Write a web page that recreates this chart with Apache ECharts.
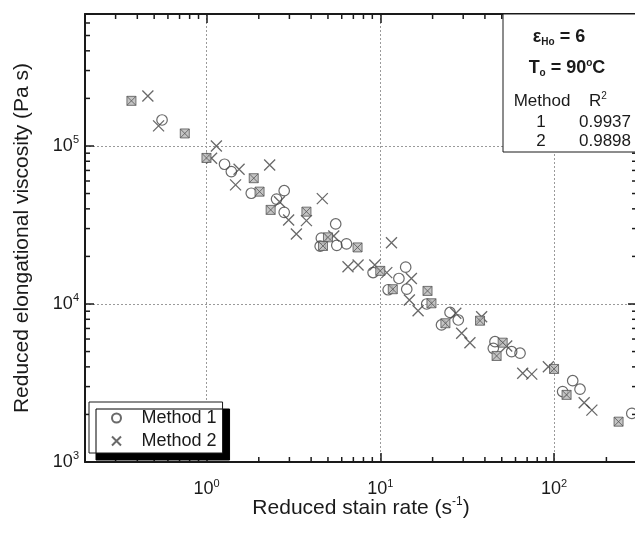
<!DOCTYPE html>
<html><head><meta charset="utf-8">
<script src="https://cdn.jsdelivr.net/npm/echarts@6/dist/echarts.min.js"></script>
<style>html,body{margin:0;padding:0;background:#fff}#c{width:635px;height:533px}</style>
</head><body><div id="c"></div>
<script>
// ---- data (x = reduced strain rate, y = reduced elongational viscosity) ----
const method1 = [
  [0.555,146000],[1.27,76600],[1.39,68800],[1.81,50200],[2.80,52100],[2.53,46100],
  [2.80,38000],[5.54,32100],[4.58,26100],[4.51,23200],[5.62,23500],[6.39,24000],
  [9.09,15800],[14.0,17100],[12.8,14500],[11.1,12300],[14.2,12400],[18.5,10000],
  [25.2,8840],[28.1,7920],[22.5,7370],[45.7,5770],[44.7,5240],[57.0,4990],
  [63.7,4880],[128,3270],[141,2890],[112,2790],[280,2030]
];
const method2 = [
  [0.46,207000],[0.53,134000],[1.14,100000],[1.07,83600],[1.54,71200],[2.31,75800],
  [1.47,56700],[2.63,44400],[2.97,34000],[3.29,27700],[3.76,33700],[4.64,46400],
  [5.40,26900],[11.6,24400],[6.52,17200],[7.45,17650],[9.30,17650],[10.9,15800],
  [15.1,14500],[14.7,10600],[16.5,9070],[27.2,8730],[38.3,8310],[29.4,6520],
  [32.8,5690],[53.4,5420],[66.0,3640],[74.4,3600],[92.7,4010],[149,2370],[165,2130]
];
// points where both methods coincide (drawn as boxed symbols)
const bothMethods = [
  [0.37,193000],[0.75,120000],[1.0,84000],[1.87,62500],[2.02,51400],[2.34,39400],
  [3.76,38400],[5.0,26400],[4.68,23300],[7.4,22800],[10.0,16200],[11.8,12400],
  [18.7,12100],[19.7,10100],[23.7,7550],[37.5,7840],[50.6,5690],[46.7,4690],
  [100,3880],[118,2660],[235,1800]
];
const xMinorTicks = [0.3,0.4,0.5,0.6,0.7,0.8,0.9,2,3,4,5,6,7,8,9,20,30,40,50,60,70,80,90,200];
const yMinorTicks = [2000,3000,4000,5000,6000,7000,8000,9000,20000,30000,40000,50000,60000,70000,80000,90000,200000,300000,400000,500000,600000];
const xRange = [0.2, 300];
const yRange = [1000, 684000];

const FONT = 'Liberation Sans, Arial, sans-serif';
const INK = '#1a1a1a';
const crossPath = 'path://M0,0L10,10M10,0L0,10';
const boxPath = 'path://M0,0L10,0L10,10L0,10ZM0,0L10,10M10,0L0,10';

function powLabel(v) {
  const e = Math.log10(v);
  if (Math.abs(e - Math.round(e)) > 1e-6) return '';
  return '{b|10}{s|' + Math.round(e) + '}';
}
const labelRich = {
  b: {fontSize: 18, fontFamily: FONT, color: INK},
  s: {fontSize: 11, fontFamily: FONT, color: INK, padding: [0, 0, 12, 0]}
};

function mkX(pos, main) {
  return {
    type: 'log', logBase: 10, min: xRange[0], max: xRange[1], position: pos, gridIndex: 0,
    axisLine: {show: true, lineStyle: {color: INK, width: 2}},
    axisTick: {show: true, inside: true, length: 9, lineStyle: {color: INK, width: 1.5}},
    axisLabel: {show: main, formatter: powLabel, rich: labelRich, margin: 16},
    splitLine: {show: main, lineStyle: {type: [2, 2], color: '#9a9a9a', width: 1}},
    name: main ? '{t|Reduced stain rate (s}{s|-1}{t|)}' : '',
    nameLocation: 'middle', nameGap: 34, nameMoveOverlap: false,
    nameTextStyle: {rich: {
      t: {fontSize: 21, fontFamily: FONT, color: INK},
      s: {fontSize: 12, fontFamily: FONT, color: INK, padding: [0, 0, 13, 0]}
    }}
  };
}
function mkY(pos, main) {
  return {
    type: 'log', logBase: 10, min: yRange[0], max: yRange[1], position: pos, gridIndex: 0,
    axisLine: {show: true, lineStyle: {color: INK, width: 2}},
    axisTick: {show: true, inside: true, length: 9, lineStyle: {color: INK, width: 1.5}},
    axisLabel: {show: main, formatter: powLabel, rich: labelRich, margin: 6},
    splitLine: {show: main, lineStyle: {type: [2, 2], color: '#9a9a9a', width: 1}},
    name: main ? 'Reduced elongational viscosity (Pa s)' : '',
    nameLocation: 'middle', nameGap: 52, nameMoveOverlap: false,
    nameTextStyle: {fontSize: 21, fontFamily: FONT, color: INK}
  };
}

function minorTickSeries(values, isX) {
  return {
    type: 'custom', silent: true, z: 3, clip: false,
    data: values.map(v => isX ? [v, yRange[0]] : [xRange[0], v]),
    renderItem: function (params, api) {
      const cs = params.coordSys;
      const p = api.coord([api.value(0), api.value(1)]);
      const st = {stroke: INK, lineWidth: 1.5};
      if (isX) {
        return {type: 'group', children: [
          {type: 'line', shape: {x1: p[0], y1: cs.y + cs.height, x2: p[0], y2: cs.y + cs.height - 5}, style: st},
          {type: 'line', shape: {x1: p[0], y1: cs.y, x2: p[0], y2: cs.y + 5}, style: st}
        ]};
      }
      return {type: 'group', children: [
        {type: 'line', shape: {x1: cs.x, y1: p[1], x2: cs.x + 5, y2: p[1]}, style: st},
        {type: 'line', shape: {x1: cs.x + cs.width, y1: p[1], x2: cs.x + cs.width - 5, y2: p[1]}, style: st}
      ]};
    }
  };
}

const chart = echarts.init(document.getElementById('c'), null, {renderer: 'canvas'});
const txt = (x, y, text, rich, align) => ({
  type: 'text', x: x, y: y, z: 101,
  style: {text: text, rich: rich, align: align || 'center', verticalAlign: 'middle',
          fontFamily: FONT, fontSize: 17, fill: INK}
});
const boldRich = {
  e: {fontSize: 18, fontWeight: 'bold', fontFamily: FONT, color: INK},
  sub: {fontSize: 10, fontWeight: 'bold', fontFamily: FONT, color: INK, padding: [10, 0, 0, 0]},
  sup: {fontSize: 10, fontWeight: 'bold', fontFamily: FONT, color: INK, padding: [0, 0, 10, 0]}
};
const normRich = {
  n: {fontSize: 17, fontFamily: FONT, color: INK},
  sup: {fontSize: 10, fontFamily: FONT, color: INK, padding: [0, 0, 10, 0]}
};

chart.setOption({
  animation: false,
  backgroundColor: '#fff',
  grid: {left: 85, top: 14, width: 552, height: 448, containLabel: false, outerBoundsMode: 'none'},
  xAxis: [mkX('bottom', true), mkX('top', false)],
  yAxis: [mkY('left', true), mkY('right', false)],
  legend: {
    left: 89, top: 402, orient: 'vertical',
    data: [{name: 'Method 1', icon: 'circle'}, {name: 'Method 2', icon: crossPath}],
    itemWidth: 40, itemHeight: 9, itemGap: 5,
    padding: [7, 6, 3, 22],
    backgroundColor: '#fff', borderColor: INK, borderWidth: 1,
    shadowColor: '#000', shadowBlur: 0, shadowOffsetX: 7, shadowOffsetY: 7,
    textStyle: {fontSize: 18, fontFamily: FONT, color: INK},
    selectedMode: false
  },
  graphic: {elements: [
    {type: 'rect', z: 100, shape: {x: 503, y: 14, width: 140, height: 138},
     style: {fill: '#fff', stroke: INK, lineWidth: 1}},
    txt(559, 37, '{e|ε}{sub|Ho}{e| = 6}', boldRich),
    txt(567, 68, '{e|T}{sub|o}{e| = 90}{sup|o}{e|C}', boldRich),
    txt(542, 101, '{n|Method}', normRich),
    txt(598, 101, '{n|R}{sup|2}', normRich),
    txt(541, 122, '{n|1}', normRich),
    txt(605, 122, '{n|0.9937}', normRich),
    txt(541, 141, '{n|2}', normRich),
    txt(605, 141, '{n|0.9898}', normRich)
  ]},
  series: [
    {name: 'Method 1', type: 'scatter', data: method1, symbol: 'circle', symbolSize: 10.5, z: 5,
     itemStyle: {color: 'rgba(255,255,255,0)', borderColor: '#444', borderWidth: 1.2}},
    {name: 'Method 2', type: 'scatter', data: method2, symbol: crossPath, symbolSize: 11, z: 5,
     itemStyle: {color: 'rgba(255,255,255,0)', borderColor: '#444', borderWidth: 1.3}},
    {name: 'Both methods', type: 'scatter', data: bothMethods, symbol: boxPath, symbolSize: 9, z: 6,
     itemStyle: {color: '#b5b5b5', borderColor: '#555', borderWidth: 1}},
    minorTickSeries(xMinorTicks, true),
    minorTickSeries(yMinorTicks, false)
  ]
});
</script></body></html>
